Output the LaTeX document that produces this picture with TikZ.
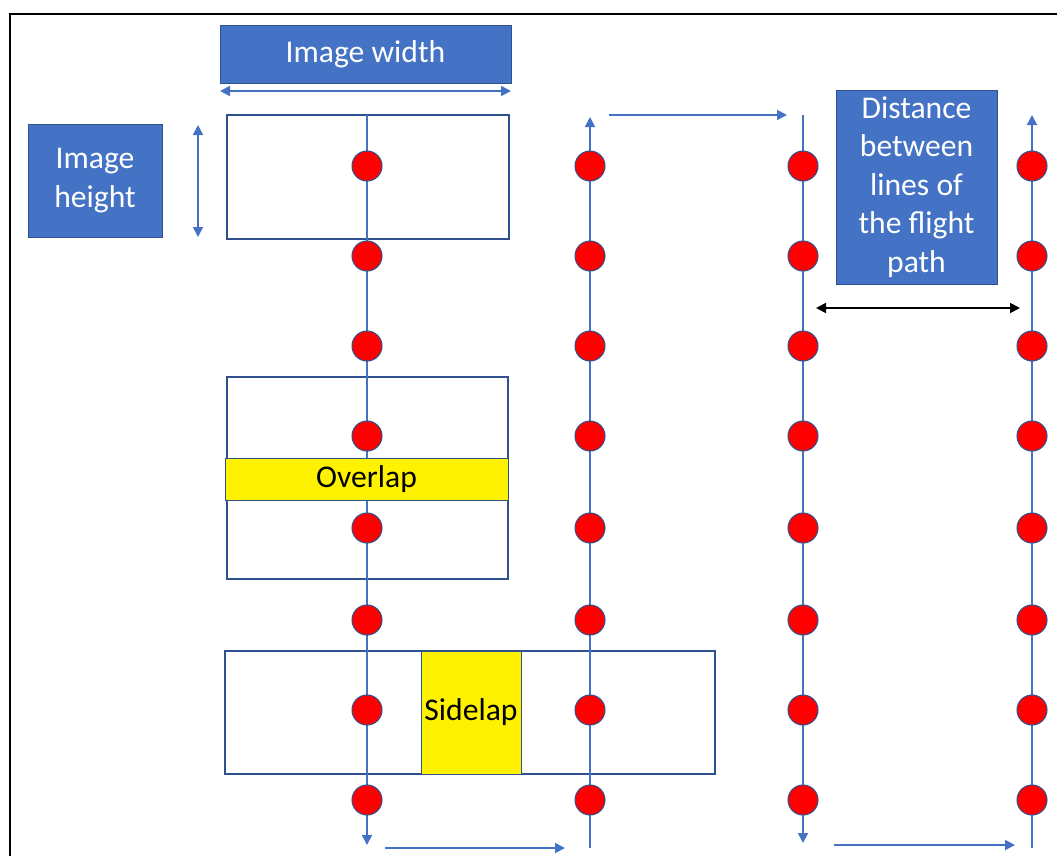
\documentclass[tikz,border=0pt]{standalone}
\usepackage{fontspec}
\setmainfont{Carlito}
\usetikzlibrary{arrows.meta}
\definecolor{pathblue}{HTML}{4472C4}
\definecolor{edgeblue}{HTML}{2F528F}

\begin{document}
\begin{tikzpicture}[x=0.02cm, y=-0.02cm,
  tag/.style={draw=edgeblue, fill=pathblue, text=white, align=center, inner sep=0pt, font=\fontsize{18}{22}\selectfont},
  lap/.style={draw=edgeblue, fill=yellow, inner sep=0pt, font=\fontsize{18}{22}\selectfont},
  frame/.style={draw=edgeblue, line width=0.8pt},
  flight/.style={draw=pathblue, line width=1pt},
  tip/.style={-{Triangle[length=0.2cm, width=0.2cm]}},
  both/.style={{Triangle[length=0.2cm, width=0.2cm]}-{Triangle[length=0.2cm, width=0.2cm]}},
  shot/.style={circle, draw=edgeblue, fill=red, line width=0.6pt, minimum size=0.6cm, inner sep=0pt}]
\useasboundingbox (0,0) rectangle (1057,856);
\draw[line width=1.1pt] (10,856) -- (10,14) -- (1057,14);

% labels
\node[tag, minimum width=5.82cm, minimum height=1.16cm] (width) at (365.5,54) {Image width};
\node[tag, minimum width=2.68cm, minimum height=2.26cm] (height) at (95,180.5) {Image\\height};
\node[tag, minimum width=3.22cm, minimum height=3.88cm] (dist) at (916.5,187) {Distance\\between\\lines of\\the flight\\path};

\coordinate (wl) at (220,91);
\coordinate (wr) at (511,91);
\draw[flight, both] (wl) -- (wr);
\coordinate (ht) at (198,125);
\coordinate (hb) at (198,237);
\draw[flight, both] (ht) -- (hb);
\coordinate (dl) at (816,308);
\coordinate (dr) at (1020,308);
\draw[line width=1pt, both] (dl) -- (dr);

% image footprints
\draw[frame] (227,115) rectangle (509,239);
\draw[frame] (227,377) rectangle (508,579);
\draw[frame] (225,651) rectangle (715,774);

% flight lines
\coordinate (a1) at (367,115);
\coordinate (b1) at (367,845);
\coordinate (a2) at (590,848);
\coordinate (b2) at (590,117);
\coordinate (a3) at (803,115);
\coordinate (b3) at (803,843);
\coordinate (a4) at (1032,848);
\coordinate (b4) at (1032,115);
\draw[flight, tip] (a1) -- (b1);
\draw[flight, tip] (a2) -- (b2);
\draw[flight, tip] (a3) -- (b3);
\draw[flight, tip] (a4) -- (b4);

\coordinate (t1) at (385,848);
\coordinate (t2) at (565,848);
\coordinate (t3) at (609,115);
\coordinate (t4) at (787,115);
\coordinate (t5) at (834,845);
\coordinate (t6) at (1015,845);
\draw[flight, tip] (t1) -- (t2);
\draw[flight, tip] (t3) -- (t4);
\draw[flight, tip] (t5) -- (t6);

% overlaps
\node[lap, minimum width=5.66cm, minimum height=0.84cm] (overlap) at (366.5,479) {Overlap};
\node[lap, minimum width=2cm, minimum height=2.46cm] (sidelap) at (471,712.5) {Sidelap};

% camera positions
\foreach \x [count=\i] in {367,590,803,1032}
  \foreach \y [count=\j] in {166,256,346,436,528,620,710,800}
    \node[shot] (d\i-\j) at (\x,\y) {};
\end{tikzpicture}
\end{document}
